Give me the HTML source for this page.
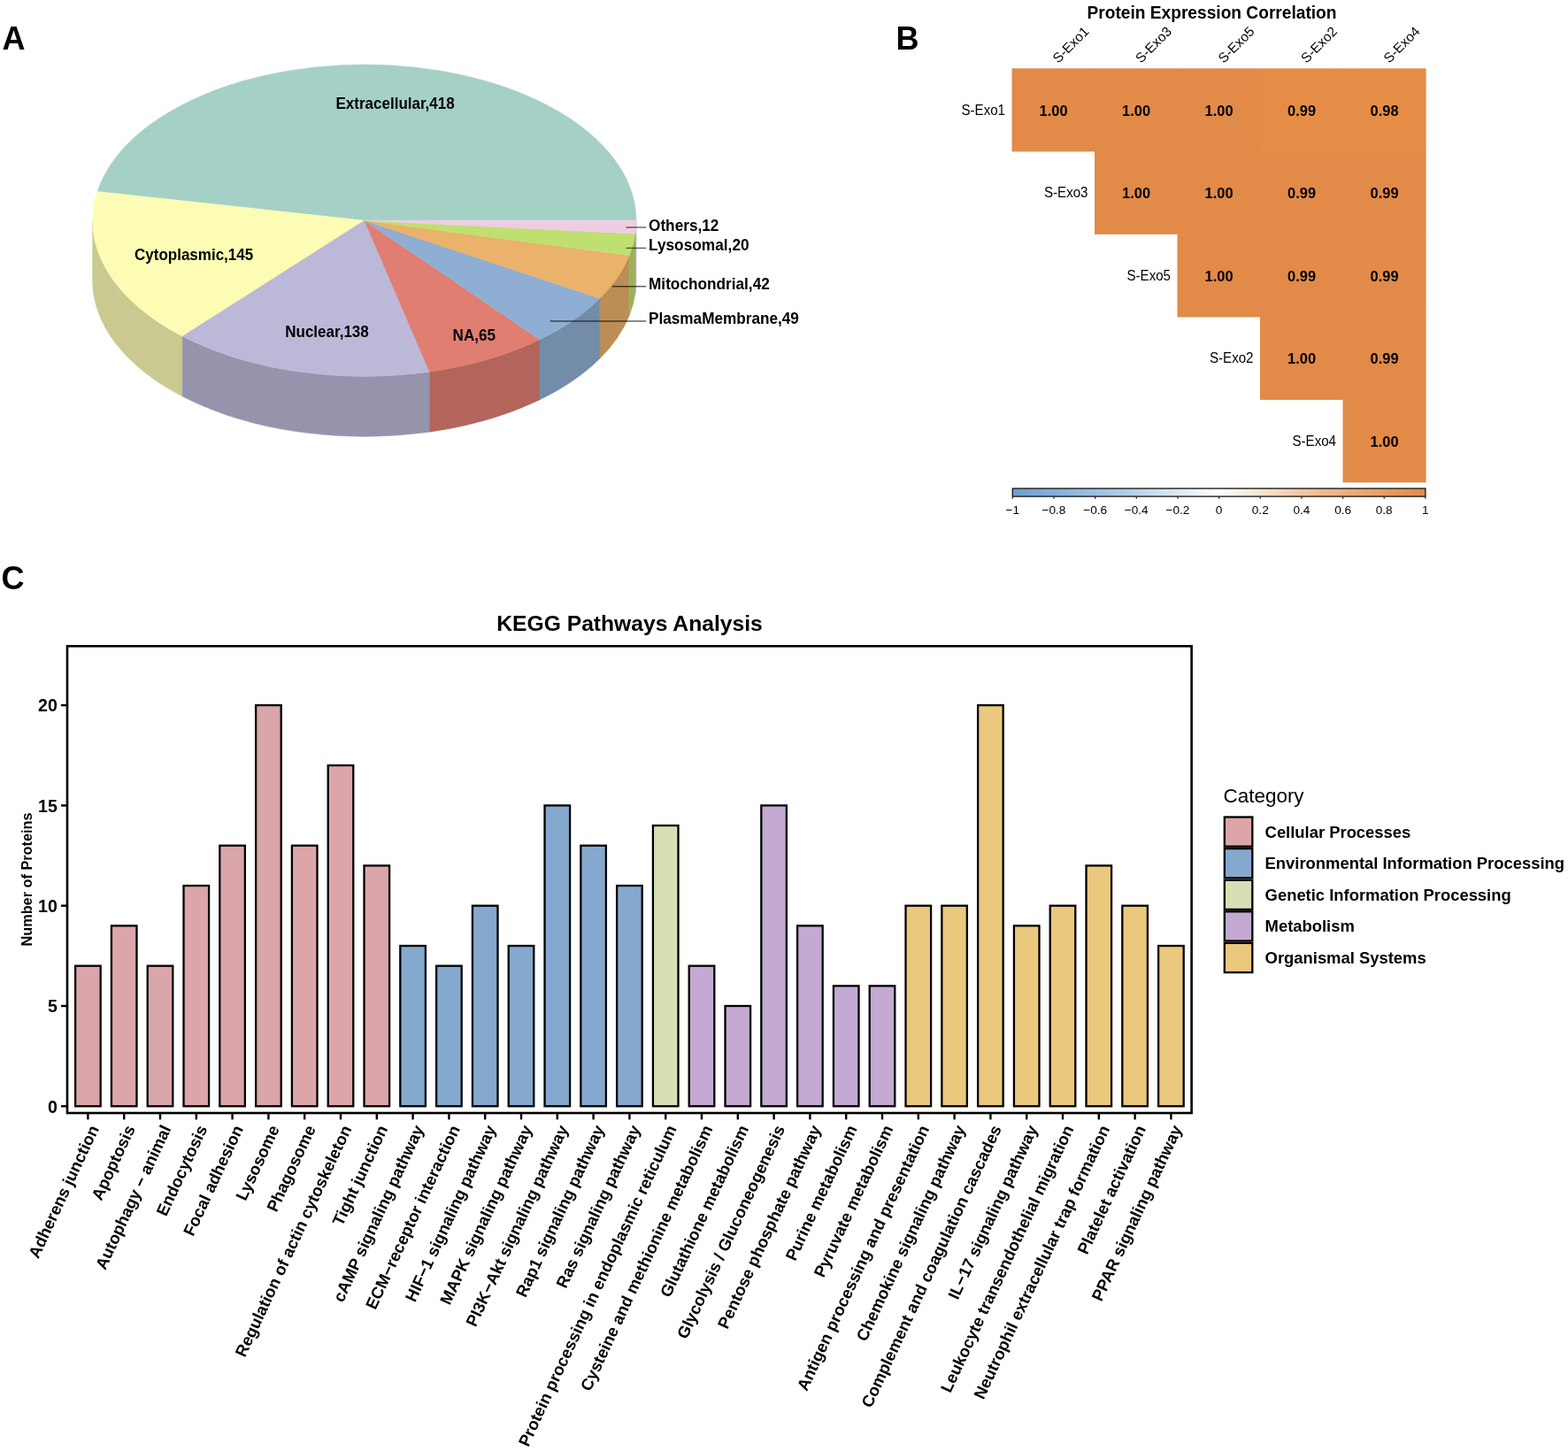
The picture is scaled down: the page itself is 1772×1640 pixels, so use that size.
<!DOCTYPE html>
<html><head><meta charset="utf-8"><title>Figure</title>
<style>html,body{margin:0;padding:0;background:#fff;}body{width:1772px;height:1640px;overflow:hidden;}svg{display:block;}</style>
</head><body>
<svg width="1772" height="1640" viewBox="0 0 1772 1640">
<text x="2.6" y="56" font-size="36" font-weight="bold" font-family="Liberation Sans, Arial, Helvetica, sans-serif">A</text>
<text x="1012.5" y="56.2" font-size="36" font-weight="bold" font-family="Liberation Sans, Arial, Helvetica, sans-serif">B</text>
<text x="1.6" y="665.7" font-size="36" font-weight="bold" font-family="Liberation Sans, Arial, Helvetica, sans-serif">C</text>
<path d="M104.60,249.20 A307.2,176.2 0 0 0 206.19,380.11 L206.19,448.11 A307.2,176.2 0 0 1 104.60,317.20 Z" fill="#CACA90" stroke="#CACA90" stroke-width="0.5"/>
<path d="M206.19,380.11 A307.2,176.2 0 0 0 485.44,420.26 L485.44,488.26 A307.2,176.2 0 0 1 206.19,448.11 Z" fill="#9694AD" stroke="#9694AD" stroke-width="0.5"/>
<path d="M485.44,420.26 A307.2,176.2 0 0 0 610.05,383.80 L610.05,451.80 A307.2,176.2 0 0 1 485.44,488.26 Z" fill="#B3655B" stroke="#B3655B" stroke-width="0.5"/>
<path d="M610.05,383.80 A307.2,176.2 0 0 0 677.93,337.21 L677.93,405.21 A307.2,176.2 0 0 1 610.05,451.80 Z" fill="#728CA9" stroke="#728CA9" stroke-width="0.5"/>
<path d="M677.93,337.21 A307.2,176.2 0 0 0 711.18,288.71 L711.18,356.71 A307.2,176.2 0 0 1 677.93,405.21 Z" fill="#BB8E55" stroke="#BB8E55" stroke-width="0.5"/>
<path d="M711.18,288.71 A307.2,176.2 0 0 0 717.90,264.13 L717.90,332.13 A307.2,176.2 0 0 1 711.18,356.71 Z" fill="#99B25A" stroke="#99B25A" stroke-width="0.5"/>
<path d="M717.90,264.13 A307.2,176.2 0 0 0 719.00,249.20 L719.00,317.20 A307.2,176.2 0 0 1 717.90,332.13 Z" fill="#C0A3B6" stroke="#C0A3B6" stroke-width="0.5"/>
<path d="M411.8,249.2 L719.00,249.20 A307.2,176.2 0 0 0 109.97,216.39 Z" fill="#A5D0C6" stroke="#A5D0C6" stroke-width="0.5"/>
<path d="M411.8,249.2 L109.97,216.39 A307.2,176.2 0 0 0 206.19,380.11 Z" fill="#FDFCB4" stroke="#FDFCB4" stroke-width="0.5"/>
<path d="M411.8,249.2 L206.19,380.11 A307.2,176.2 0 0 0 485.44,420.26 Z" fill="#BCB9D8" stroke="#BCB9D8" stroke-width="0.5"/>
<path d="M411.8,249.2 L485.44,420.26 A307.2,176.2 0 0 0 610.05,383.80 Z" fill="#E07E72" stroke="#E07E72" stroke-width="0.5"/>
<path d="M411.8,249.2 L610.05,383.80 A307.2,176.2 0 0 0 677.93,337.21 Z" fill="#8EAFD3" stroke="#8EAFD3" stroke-width="0.5"/>
<path d="M411.8,249.2 L677.93,337.21 A307.2,176.2 0 0 0 711.18,288.71 Z" fill="#EAB26A" stroke="#EAB26A" stroke-width="0.5"/>
<path d="M411.8,249.2 L711.18,288.71 A307.2,176.2 0 0 0 717.90,264.13 Z" fill="#BFDF70" stroke="#BFDF70" stroke-width="0.5"/>
<path d="M411.8,249.2 L717.90,264.13 A307.2,176.2 0 0 0 719.00,249.20 Z" fill="#F0CCE3" stroke="#F0CCE3" stroke-width="0.5"/>
<text x="446.6" y="123.0" font-size="17.8" textLength="134.2" lengthAdjust="spacingAndGlyphs" font-weight="bold" text-anchor="middle" font-family="Liberation Sans, Arial, Helvetica, sans-serif">Extracellular,418</text>
<text x="219.1" y="294.0" font-size="17.8" textLength="134.1" lengthAdjust="spacingAndGlyphs" font-weight="bold" text-anchor="middle" font-family="Liberation Sans, Arial, Helvetica, sans-serif">Cytoplasmic,145</text>
<text x="369.5" y="381.4" font-size="17.8" textLength="94.5" lengthAdjust="spacingAndGlyphs" font-weight="bold" text-anchor="middle" font-family="Liberation Sans, Arial, Helvetica, sans-serif">Nuclear,138</text>
<text x="535.75" y="385.0" font-size="17.8" textLength="48.4" lengthAdjust="spacingAndGlyphs" font-weight="bold" text-anchor="middle" font-family="Liberation Sans, Arial, Helvetica, sans-serif">NA,65</text>
<line x1="707.6" y1="257.0" x2="730.3" y2="257.0" stroke="#000" stroke-opacity="0.62" stroke-width="1.4"/>
<text x="733.0" y="260.6" font-size="17.8" textLength="79.4" lengthAdjust="spacingAndGlyphs" font-weight="bold" font-family="Liberation Sans, Arial, Helvetica, sans-serif">Others,12</text>
<line x1="707.6" y1="280.4" x2="730.3" y2="280.4" stroke="#000" stroke-opacity="0.62" stroke-width="1.4"/>
<text x="733.0" y="282.5" font-size="17.8" textLength="113.6" lengthAdjust="spacingAndGlyphs" font-weight="bold" font-family="Liberation Sans, Arial, Helvetica, sans-serif">Lysosomal,20</text>
<line x1="691.8" y1="323.8" x2="730.3" y2="323.8" stroke="#000" stroke-opacity="0.62" stroke-width="1.4"/>
<text x="733.0" y="326.7" font-size="17.8" textLength="136.8" lengthAdjust="spacingAndGlyphs" font-weight="bold" font-family="Liberation Sans, Arial, Helvetica, sans-serif">Mitochondrial,42</text>
<line x1="621.9" y1="363.0" x2="730.3" y2="363.0" stroke="#000" stroke-opacity="0.62" stroke-width="1.4"/>
<text x="733.0" y="365.6" font-size="17.8" textLength="169.9" lengthAdjust="spacingAndGlyphs" font-weight="bold" font-family="Liberation Sans, Arial, Helvetica, sans-serif">PlasmaMembrane,49</text>
<text x="1369.5" y="21.1" font-size="19.6" textLength="282.00" lengthAdjust="spacingAndGlyphs" font-weight="bold" text-anchor="middle" font-family="Liberation Sans, Arial, Helvetica, sans-serif">Protein Expression Correlation</text>
<rect x="1143.50" y="77.30" width="94.1" height="94.1" fill="#E28A48"/>
<rect x="1237.00" y="77.30" width="94.1" height="94.1" fill="#E28A48"/>
<rect x="1330.50" y="77.30" width="94.1" height="94.1" fill="#E28A48"/>
<rect x="1424.00" y="77.30" width="94.1" height="94.1" fill="#E58D46"/>
<rect x="1517.50" y="77.30" width="94.1" height="94.1" fill="#E58D46"/>
<rect x="1237.00" y="170.80" width="94.1" height="94.1" fill="#E28A48"/>
<rect x="1330.50" y="170.80" width="94.1" height="94.1" fill="#E28A48"/>
<rect x="1424.00" y="170.80" width="94.1" height="94.1" fill="#E28A48"/>
<rect x="1517.50" y="170.80" width="94.1" height="94.1" fill="#E28A48"/>
<rect x="1330.50" y="264.30" width="94.1" height="94.1" fill="#E28A48"/>
<rect x="1424.00" y="264.30" width="94.1" height="94.1" fill="#E28A48"/>
<rect x="1517.50" y="264.30" width="94.1" height="94.1" fill="#E28A48"/>
<rect x="1424.00" y="357.80" width="94.1" height="94.1" fill="#E28A48"/>
<rect x="1517.50" y="357.80" width="94.1" height="94.1" fill="#E28A48"/>
<rect x="1517.50" y="451.30" width="94.1" height="94.1" fill="#E28A48"/>
<text x="1190.55" y="130.70" font-size="16.4" font-weight="bold" text-anchor="middle" font-family="Liberation Sans, Arial, Helvetica, sans-serif">1.00</text>
<text x="1284.05" y="130.70" font-size="16.4" font-weight="bold" text-anchor="middle" font-family="Liberation Sans, Arial, Helvetica, sans-serif">1.00</text>
<text x="1377.55" y="130.70" font-size="16.4" font-weight="bold" text-anchor="middle" font-family="Liberation Sans, Arial, Helvetica, sans-serif">1.00</text>
<text x="1471.05" y="130.70" font-size="16.4" font-weight="bold" text-anchor="middle" font-family="Liberation Sans, Arial, Helvetica, sans-serif">0.99</text>
<text x="1564.55" y="130.70" font-size="16.4" font-weight="bold" text-anchor="middle" font-family="Liberation Sans, Arial, Helvetica, sans-serif">0.98</text>
<text x="1136.00" y="129.90" font-size="15.8" textLength="49.52" lengthAdjust="spacingAndGlyphs" text-anchor="end" font-family="Liberation Sans, Arial, Helvetica, sans-serif">S-Exo1</text>
<text transform="translate(1196.05,72) rotate(-45)" font-size="15.3" font-family="Liberation Sans, Arial, Helvetica, sans-serif">S-Exo1</text>
<text x="1284.05" y="224.20" font-size="16.4" font-weight="bold" text-anchor="middle" font-family="Liberation Sans, Arial, Helvetica, sans-serif">1.00</text>
<text x="1377.55" y="224.20" font-size="16.4" font-weight="bold" text-anchor="middle" font-family="Liberation Sans, Arial, Helvetica, sans-serif">1.00</text>
<text x="1471.05" y="224.20" font-size="16.4" font-weight="bold" text-anchor="middle" font-family="Liberation Sans, Arial, Helvetica, sans-serif">0.99</text>
<text x="1564.55" y="224.20" font-size="16.4" font-weight="bold" text-anchor="middle" font-family="Liberation Sans, Arial, Helvetica, sans-serif">0.99</text>
<text x="1229.50" y="223.40" font-size="15.8" textLength="49.52" lengthAdjust="spacingAndGlyphs" text-anchor="end" font-family="Liberation Sans, Arial, Helvetica, sans-serif">S-Exo3</text>
<text transform="translate(1289.55,72) rotate(-45)" font-size="15.3" font-family="Liberation Sans, Arial, Helvetica, sans-serif">S-Exo3</text>
<text x="1377.55" y="317.70" font-size="16.4" font-weight="bold" text-anchor="middle" font-family="Liberation Sans, Arial, Helvetica, sans-serif">1.00</text>
<text x="1471.05" y="317.70" font-size="16.4" font-weight="bold" text-anchor="middle" font-family="Liberation Sans, Arial, Helvetica, sans-serif">0.99</text>
<text x="1564.55" y="317.70" font-size="16.4" font-weight="bold" text-anchor="middle" font-family="Liberation Sans, Arial, Helvetica, sans-serif">0.99</text>
<text x="1323.00" y="316.90" font-size="15.8" textLength="49.52" lengthAdjust="spacingAndGlyphs" text-anchor="end" font-family="Liberation Sans, Arial, Helvetica, sans-serif">S-Exo5</text>
<text transform="translate(1383.05,72) rotate(-45)" font-size="15.3" font-family="Liberation Sans, Arial, Helvetica, sans-serif">S-Exo5</text>
<text x="1471.05" y="411.20" font-size="16.4" font-weight="bold" text-anchor="middle" font-family="Liberation Sans, Arial, Helvetica, sans-serif">1.00</text>
<text x="1564.55" y="411.20" font-size="16.4" font-weight="bold" text-anchor="middle" font-family="Liberation Sans, Arial, Helvetica, sans-serif">0.99</text>
<text x="1416.50" y="410.40" font-size="15.8" textLength="49.52" lengthAdjust="spacingAndGlyphs" text-anchor="end" font-family="Liberation Sans, Arial, Helvetica, sans-serif">S-Exo2</text>
<text transform="translate(1476.55,72) rotate(-45)" font-size="15.3" font-family="Liberation Sans, Arial, Helvetica, sans-serif">S-Exo2</text>
<text x="1564.55" y="504.70" font-size="16.4" font-weight="bold" text-anchor="middle" font-family="Liberation Sans, Arial, Helvetica, sans-serif">1.00</text>
<text x="1510.00" y="503.90" font-size="15.8" textLength="49.52" lengthAdjust="spacingAndGlyphs" text-anchor="end" font-family="Liberation Sans, Arial, Helvetica, sans-serif">S-Exo4</text>
<text transform="translate(1570.05,72) rotate(-45)" font-size="15.3" font-family="Liberation Sans, Arial, Helvetica, sans-serif">S-Exo4</text>
<defs><linearGradient id="cb" x1="0" x2="1" y1="0" y2="0"><stop offset="0" stop-color="#6E9FD0"/><stop offset="0.25" stop-color="#A9C8E6"/><stop offset="0.5" stop-color="#FFFFFF"/><stop offset="0.75" stop-color="#F0BA8E"/><stop offset="1" stop-color="#E28A48"/></linearGradient></defs>
<rect x="1144.3" y="552.1" width="466.6" height="9" fill="url(#cb)" stroke="#111" stroke-width="1.3"/>
<line x1="1144.30" y1="561.6" x2="1144.30" y2="563.8" stroke="#111" stroke-width="1.2"/>
<text x="1144.30" y="580.8" font-size="13.6" text-anchor="middle" font-family="Liberation Sans, Arial, Helvetica, sans-serif">−1</text>
<line x1="1190.96" y1="561.6" x2="1190.96" y2="563.8" stroke="#111" stroke-width="1.2"/>
<text x="1190.96" y="580.8" font-size="13.6" text-anchor="middle" font-family="Liberation Sans, Arial, Helvetica, sans-serif">−0.8</text>
<line x1="1237.62" y1="561.6" x2="1237.62" y2="563.8" stroke="#111" stroke-width="1.2"/>
<text x="1237.62" y="580.8" font-size="13.6" text-anchor="middle" font-family="Liberation Sans, Arial, Helvetica, sans-serif">−0.6</text>
<line x1="1284.28" y1="561.6" x2="1284.28" y2="563.8" stroke="#111" stroke-width="1.2"/>
<text x="1284.28" y="580.8" font-size="13.6" text-anchor="middle" font-family="Liberation Sans, Arial, Helvetica, sans-serif">−0.4</text>
<line x1="1330.94" y1="561.6" x2="1330.94" y2="563.8" stroke="#111" stroke-width="1.2"/>
<text x="1330.94" y="580.8" font-size="13.6" text-anchor="middle" font-family="Liberation Sans, Arial, Helvetica, sans-serif">−0.2</text>
<line x1="1377.60" y1="561.6" x2="1377.60" y2="563.8" stroke="#111" stroke-width="1.2"/>
<text x="1377.60" y="580.8" font-size="13.6" text-anchor="middle" font-family="Liberation Sans, Arial, Helvetica, sans-serif">0</text>
<line x1="1424.26" y1="561.6" x2="1424.26" y2="563.8" stroke="#111" stroke-width="1.2"/>
<text x="1424.26" y="580.8" font-size="13.6" text-anchor="middle" font-family="Liberation Sans, Arial, Helvetica, sans-serif">0.2</text>
<line x1="1470.92" y1="561.6" x2="1470.92" y2="563.8" stroke="#111" stroke-width="1.2"/>
<text x="1470.92" y="580.8" font-size="13.6" text-anchor="middle" font-family="Liberation Sans, Arial, Helvetica, sans-serif">0.4</text>
<line x1="1517.58" y1="561.6" x2="1517.58" y2="563.8" stroke="#111" stroke-width="1.2"/>
<text x="1517.58" y="580.8" font-size="13.6" text-anchor="middle" font-family="Liberation Sans, Arial, Helvetica, sans-serif">0.6</text>
<line x1="1564.24" y1="561.6" x2="1564.24" y2="563.8" stroke="#111" stroke-width="1.2"/>
<text x="1564.24" y="580.8" font-size="13.6" text-anchor="middle" font-family="Liberation Sans, Arial, Helvetica, sans-serif">0.8</text>
<line x1="1610.90" y1="561.6" x2="1610.90" y2="563.8" stroke="#111" stroke-width="1.2"/>
<text x="1610.90" y="580.8" font-size="13.6" text-anchor="middle" font-family="Liberation Sans, Arial, Helvetica, sans-serif">1</text>
<text x="711.5" y="712.6" font-size="23.4" textLength="300.5" lengthAdjust="spacingAndGlyphs" font-weight="bold" text-anchor="middle" font-family="Liberation Sans, Arial, Helvetica, sans-serif">KEGG Pathways Analysis</text>
<rect x="85.12" y="1091.68" width="28.56" height="158.62" fill="#DBA6AA" stroke="#000" stroke-width="2.3"/>
<rect x="125.92" y="1046.36" width="28.56" height="203.94" fill="#DBA6AA" stroke="#000" stroke-width="2.3"/>
<rect x="166.72" y="1091.68" width="28.56" height="158.62" fill="#DBA6AA" stroke="#000" stroke-width="2.3"/>
<rect x="207.52" y="1001.04" width="28.56" height="249.26" fill="#DBA6AA" stroke="#000" stroke-width="2.3"/>
<rect x="248.32" y="955.72" width="28.56" height="294.58" fill="#DBA6AA" stroke="#000" stroke-width="2.3"/>
<rect x="289.12" y="797.10" width="28.56" height="453.20" fill="#DBA6AA" stroke="#000" stroke-width="2.3"/>
<rect x="329.92" y="955.72" width="28.56" height="294.58" fill="#DBA6AA" stroke="#000" stroke-width="2.3"/>
<rect x="370.72" y="865.08" width="28.56" height="385.22" fill="#DBA6AA" stroke="#000" stroke-width="2.3"/>
<rect x="411.52" y="978.38" width="28.56" height="271.92" fill="#DBA6AA" stroke="#000" stroke-width="2.3"/>
<rect x="452.32" y="1069.02" width="28.56" height="181.28" fill="#85A8CE" stroke="#000" stroke-width="2.3"/>
<rect x="493.12" y="1091.68" width="28.56" height="158.62" fill="#85A8CE" stroke="#000" stroke-width="2.3"/>
<rect x="533.92" y="1023.70" width="28.56" height="226.60" fill="#85A8CE" stroke="#000" stroke-width="2.3"/>
<rect x="574.72" y="1069.02" width="28.56" height="181.28" fill="#85A8CE" stroke="#000" stroke-width="2.3"/>
<rect x="615.52" y="910.40" width="28.56" height="339.90" fill="#85A8CE" stroke="#000" stroke-width="2.3"/>
<rect x="656.32" y="955.72" width="28.56" height="294.58" fill="#85A8CE" stroke="#000" stroke-width="2.3"/>
<rect x="697.12" y="1001.04" width="28.56" height="249.26" fill="#85A8CE" stroke="#000" stroke-width="2.3"/>
<rect x="737.92" y="933.06" width="28.56" height="317.24" fill="#D6E0B4" stroke="#000" stroke-width="2.3"/>
<rect x="778.72" y="1091.68" width="28.56" height="158.62" fill="#C4AAD2" stroke="#000" stroke-width="2.3"/>
<rect x="819.52" y="1137.00" width="28.56" height="113.30" fill="#C4AAD2" stroke="#000" stroke-width="2.3"/>
<rect x="860.32" y="910.40" width="28.56" height="339.90" fill="#C4AAD2" stroke="#000" stroke-width="2.3"/>
<rect x="901.12" y="1046.36" width="28.56" height="203.94" fill="#C4AAD2" stroke="#000" stroke-width="2.3"/>
<rect x="941.92" y="1114.34" width="28.56" height="135.96" fill="#C4AAD2" stroke="#000" stroke-width="2.3"/>
<rect x="982.72" y="1114.34" width="28.56" height="135.96" fill="#C4AAD2" stroke="#000" stroke-width="2.3"/>
<rect x="1023.52" y="1023.70" width="28.56" height="226.60" fill="#EAC87E" stroke="#000" stroke-width="2.3"/>
<rect x="1064.32" y="1023.70" width="28.56" height="226.60" fill="#EAC87E" stroke="#000" stroke-width="2.3"/>
<rect x="1105.12" y="797.10" width="28.56" height="453.20" fill="#EAC87E" stroke="#000" stroke-width="2.3"/>
<rect x="1145.92" y="1046.36" width="28.56" height="203.94" fill="#EAC87E" stroke="#000" stroke-width="2.3"/>
<rect x="1186.72" y="1023.70" width="28.56" height="226.60" fill="#EAC87E" stroke="#000" stroke-width="2.3"/>
<rect x="1227.52" y="978.38" width="28.56" height="271.92" fill="#EAC87E" stroke="#000" stroke-width="2.3"/>
<rect x="1268.32" y="1023.70" width="28.56" height="226.60" fill="#EAC87E" stroke="#000" stroke-width="2.3"/>
<rect x="1309.12" y="1069.02" width="28.56" height="181.28" fill="#EAC87E" stroke="#000" stroke-width="2.3"/>
<rect x="76.0" y="730.3" width="1270.6" height="527.7" fill="none" stroke="#000" stroke-width="2.6"/>
<line x1="69.0" y1="1250.30" x2="76.0" y2="1250.30" stroke="#000" stroke-width="2.4"/>
<text x="64.8" y="1257.50" font-size="19.6" font-weight="bold" text-anchor="end" font-family="Liberation Sans, Arial, Helvetica, sans-serif">0</text>
<line x1="69.0" y1="1137.00" x2="76.0" y2="1137.00" stroke="#000" stroke-width="2.4"/>
<text x="64.8" y="1144.20" font-size="19.6" font-weight="bold" text-anchor="end" font-family="Liberation Sans, Arial, Helvetica, sans-serif">5</text>
<line x1="69.0" y1="1023.70" x2="76.0" y2="1023.70" stroke="#000" stroke-width="2.4"/>
<text x="64.8" y="1030.90" font-size="19.6" font-weight="bold" text-anchor="end" font-family="Liberation Sans, Arial, Helvetica, sans-serif">10</text>
<line x1="69.0" y1="910.40" x2="76.0" y2="910.40" stroke="#000" stroke-width="2.4"/>
<text x="64.8" y="917.60" font-size="19.6" font-weight="bold" text-anchor="end" font-family="Liberation Sans, Arial, Helvetica, sans-serif">15</text>
<line x1="69.0" y1="797.10" x2="76.0" y2="797.10" stroke="#000" stroke-width="2.4"/>
<text x="64.8" y="804.30" font-size="19.6" font-weight="bold" text-anchor="end" font-family="Liberation Sans, Arial, Helvetica, sans-serif">20</text>
<text transform="translate(36.2,994) rotate(-90)" font-size="16.3" font-weight="bold" text-anchor="middle" font-family="Liberation Sans, Arial, Helvetica, sans-serif">Number of Proteins</text>
<line x1="99.40" y1="1258.0" x2="99.40" y2="1265.4" stroke="#000" stroke-width="2.4"/>
<text transform="translate(112.20,1275.6) rotate(-65)" class="xl" font-size="18.6" font-weight="bold" text-anchor="end" font-family="Liberation Sans, Arial, Helvetica, sans-serif">Adherens junction</text>
<line x1="140.20" y1="1258.0" x2="140.20" y2="1265.4" stroke="#000" stroke-width="2.4"/>
<text transform="translate(153.00,1275.6) rotate(-65)" class="xl" font-size="18.6" font-weight="bold" text-anchor="end" font-family="Liberation Sans, Arial, Helvetica, sans-serif">Apoptosis</text>
<line x1="181.00" y1="1258.0" x2="181.00" y2="1265.4" stroke="#000" stroke-width="2.4"/>
<text transform="translate(193.80,1275.6) rotate(-65)" class="xl" font-size="18.6" font-weight="bold" text-anchor="end" font-family="Liberation Sans, Arial, Helvetica, sans-serif">Autophagy − animal</text>
<line x1="221.80" y1="1258.0" x2="221.80" y2="1265.4" stroke="#000" stroke-width="2.4"/>
<text transform="translate(234.60,1275.6) rotate(-65)" class="xl" font-size="18.6" font-weight="bold" text-anchor="end" font-family="Liberation Sans, Arial, Helvetica, sans-serif">Endocytosis</text>
<line x1="262.60" y1="1258.0" x2="262.60" y2="1265.4" stroke="#000" stroke-width="2.4"/>
<text transform="translate(275.40,1275.6) rotate(-65)" class="xl" font-size="18.6" font-weight="bold" text-anchor="end" font-family="Liberation Sans, Arial, Helvetica, sans-serif">Focal adhesion</text>
<line x1="303.40" y1="1258.0" x2="303.40" y2="1265.4" stroke="#000" stroke-width="2.4"/>
<text transform="translate(316.20,1275.6) rotate(-65)" class="xl" font-size="18.6" font-weight="bold" text-anchor="end" font-family="Liberation Sans, Arial, Helvetica, sans-serif">Lysosome</text>
<line x1="344.20" y1="1258.0" x2="344.20" y2="1265.4" stroke="#000" stroke-width="2.4"/>
<text transform="translate(357.00,1275.6) rotate(-65)" class="xl" font-size="18.6" font-weight="bold" text-anchor="end" font-family="Liberation Sans, Arial, Helvetica, sans-serif">Phagosome</text>
<line x1="385.00" y1="1258.0" x2="385.00" y2="1265.4" stroke="#000" stroke-width="2.4"/>
<text transform="translate(397.80,1275.6) rotate(-65)" class="xl" font-size="18.6" font-weight="bold" text-anchor="end" font-family="Liberation Sans, Arial, Helvetica, sans-serif">Regulation of actin cytoskeleton</text>
<line x1="425.80" y1="1258.0" x2="425.80" y2="1265.4" stroke="#000" stroke-width="2.4"/>
<text transform="translate(438.60,1275.6) rotate(-65)" class="xl" font-size="18.6" font-weight="bold" text-anchor="end" font-family="Liberation Sans, Arial, Helvetica, sans-serif">Tight junction</text>
<line x1="466.60" y1="1258.0" x2="466.60" y2="1265.4" stroke="#000" stroke-width="2.4"/>
<text transform="translate(479.40,1275.6) rotate(-65)" class="xl" font-size="18.6" font-weight="bold" text-anchor="end" font-family="Liberation Sans, Arial, Helvetica, sans-serif">cAMP signaling pathway</text>
<line x1="507.40" y1="1258.0" x2="507.40" y2="1265.4" stroke="#000" stroke-width="2.4"/>
<text transform="translate(520.20,1275.6) rotate(-65)" class="xl" font-size="18.6" font-weight="bold" text-anchor="end" font-family="Liberation Sans, Arial, Helvetica, sans-serif">ECM−receptor interaction</text>
<line x1="548.20" y1="1258.0" x2="548.20" y2="1265.4" stroke="#000" stroke-width="2.4"/>
<text transform="translate(561.00,1275.6) rotate(-65)" class="xl" font-size="18.6" font-weight="bold" text-anchor="end" font-family="Liberation Sans, Arial, Helvetica, sans-serif">HIF−1 signaling pathway</text>
<line x1="589.00" y1="1258.0" x2="589.00" y2="1265.4" stroke="#000" stroke-width="2.4"/>
<text transform="translate(601.80,1275.6) rotate(-65)" class="xl" font-size="18.6" font-weight="bold" text-anchor="end" font-family="Liberation Sans, Arial, Helvetica, sans-serif">MAPK signaling pathway</text>
<line x1="629.80" y1="1258.0" x2="629.80" y2="1265.4" stroke="#000" stroke-width="2.4"/>
<text transform="translate(642.60,1275.6) rotate(-65)" class="xl" font-size="18.6" font-weight="bold" text-anchor="end" font-family="Liberation Sans, Arial, Helvetica, sans-serif">PI3K−Akt signaling pathway</text>
<line x1="670.60" y1="1258.0" x2="670.60" y2="1265.4" stroke="#000" stroke-width="2.4"/>
<text transform="translate(683.40,1275.6) rotate(-65)" class="xl" font-size="18.6" font-weight="bold" text-anchor="end" font-family="Liberation Sans, Arial, Helvetica, sans-serif">Rap1 signaling pathway</text>
<line x1="711.40" y1="1258.0" x2="711.40" y2="1265.4" stroke="#000" stroke-width="2.4"/>
<text transform="translate(724.20,1275.6) rotate(-65)" class="xl" font-size="18.6" font-weight="bold" text-anchor="end" font-family="Liberation Sans, Arial, Helvetica, sans-serif">Ras signaling pathway</text>
<line x1="752.20" y1="1258.0" x2="752.20" y2="1265.4" stroke="#000" stroke-width="2.4"/>
<text transform="translate(765.00,1275.6) rotate(-65)" class="xl" font-size="18.6" font-weight="bold" text-anchor="end" font-family="Liberation Sans, Arial, Helvetica, sans-serif">Protein processing in endoplasmic reticulum</text>
<line x1="793.00" y1="1258.0" x2="793.00" y2="1265.4" stroke="#000" stroke-width="2.4"/>
<text transform="translate(805.80,1275.6) rotate(-65)" class="xl" font-size="18.6" font-weight="bold" text-anchor="end" font-family="Liberation Sans, Arial, Helvetica, sans-serif">Cysteine and methionine metabolism</text>
<line x1="833.80" y1="1258.0" x2="833.80" y2="1265.4" stroke="#000" stroke-width="2.4"/>
<text transform="translate(846.60,1275.6) rotate(-65)" class="xl" font-size="18.6" font-weight="bold" text-anchor="end" font-family="Liberation Sans, Arial, Helvetica, sans-serif">Glutathione metabolism</text>
<line x1="874.60" y1="1258.0" x2="874.60" y2="1265.4" stroke="#000" stroke-width="2.4"/>
<text transform="translate(887.40,1275.6) rotate(-65)" class="xl" font-size="18.6" font-weight="bold" text-anchor="end" font-family="Liberation Sans, Arial, Helvetica, sans-serif">Glycolysis / Gluconeogenesis</text>
<line x1="915.40" y1="1258.0" x2="915.40" y2="1265.4" stroke="#000" stroke-width="2.4"/>
<text transform="translate(928.20,1275.6) rotate(-65)" class="xl" font-size="18.6" font-weight="bold" text-anchor="end" font-family="Liberation Sans, Arial, Helvetica, sans-serif">Pentose phosphate pathway</text>
<line x1="956.20" y1="1258.0" x2="956.20" y2="1265.4" stroke="#000" stroke-width="2.4"/>
<text transform="translate(969.00,1275.6) rotate(-65)" class="xl" font-size="18.6" font-weight="bold" text-anchor="end" font-family="Liberation Sans, Arial, Helvetica, sans-serif">Purine metabolism</text>
<line x1="997.00" y1="1258.0" x2="997.00" y2="1265.4" stroke="#000" stroke-width="2.4"/>
<text transform="translate(1009.80,1275.6) rotate(-65)" class="xl" font-size="18.6" font-weight="bold" text-anchor="end" font-family="Liberation Sans, Arial, Helvetica, sans-serif">Pyruvate metabolism</text>
<line x1="1037.80" y1="1258.0" x2="1037.80" y2="1265.4" stroke="#000" stroke-width="2.4"/>
<text transform="translate(1050.60,1275.6) rotate(-65)" class="xl" font-size="18.6" font-weight="bold" text-anchor="end" font-family="Liberation Sans, Arial, Helvetica, sans-serif">Antigen processing and presentation</text>
<line x1="1078.60" y1="1258.0" x2="1078.60" y2="1265.4" stroke="#000" stroke-width="2.4"/>
<text transform="translate(1091.40,1275.6) rotate(-65)" class="xl" font-size="18.6" font-weight="bold" text-anchor="end" font-family="Liberation Sans, Arial, Helvetica, sans-serif">Chemokine signaling pathway</text>
<line x1="1119.40" y1="1258.0" x2="1119.40" y2="1265.4" stroke="#000" stroke-width="2.4"/>
<text transform="translate(1132.20,1275.6) rotate(-65)" class="xl" font-size="18.6" font-weight="bold" text-anchor="end" font-family="Liberation Sans, Arial, Helvetica, sans-serif">Complement and coagulation cascades</text>
<line x1="1160.20" y1="1258.0" x2="1160.20" y2="1265.4" stroke="#000" stroke-width="2.4"/>
<text transform="translate(1173.00,1275.6) rotate(-65)" class="xl" font-size="18.6" font-weight="bold" text-anchor="end" font-family="Liberation Sans, Arial, Helvetica, sans-serif">IL−17 signaling pathway</text>
<line x1="1201.00" y1="1258.0" x2="1201.00" y2="1265.4" stroke="#000" stroke-width="2.4"/>
<text transform="translate(1213.80,1275.6) rotate(-65)" class="xl" font-size="18.6" font-weight="bold" text-anchor="end" font-family="Liberation Sans, Arial, Helvetica, sans-serif">Leukocyte transendothelial migration</text>
<line x1="1241.80" y1="1258.0" x2="1241.80" y2="1265.4" stroke="#000" stroke-width="2.4"/>
<text transform="translate(1254.60,1275.6) rotate(-65)" class="xl" font-size="18.6" font-weight="bold" text-anchor="end" font-family="Liberation Sans, Arial, Helvetica, sans-serif">Neutrophil extracellular trap formation</text>
<line x1="1282.60" y1="1258.0" x2="1282.60" y2="1265.4" stroke="#000" stroke-width="2.4"/>
<text transform="translate(1295.40,1275.6) rotate(-65)" class="xl" font-size="18.6" font-weight="bold" text-anchor="end" font-family="Liberation Sans, Arial, Helvetica, sans-serif">Platelet activation</text>
<line x1="1323.40" y1="1258.0" x2="1323.40" y2="1265.4" stroke="#000" stroke-width="2.4"/>
<text transform="translate(1336.20,1275.6) rotate(-65)" class="xl" font-size="18.6" font-weight="bold" text-anchor="end" font-family="Liberation Sans, Arial, Helvetica, sans-serif">PPAR signaling pathway</text>
<text x="1382.6" y="907.2" font-size="21.3" textLength="91" lengthAdjust="spacingAndGlyphs" font-family="Liberation Sans, Arial, Helvetica, sans-serif">Category</text>
<rect x="1383.8" y="923.50" width="31.5" height="33.2" fill="#DBA6AA" stroke="#000" stroke-width="2.3"/>
<text x="1429.6" y="946.50" font-size="19.2" textLength="164.68" lengthAdjust="spacingAndGlyphs" font-weight="bold" font-family="Liberation Sans, Arial, Helvetica, sans-serif">Cellular Processes</text>
<rect x="1383.8" y="959.10" width="31.5" height="33.2" fill="#85A8CE" stroke="#000" stroke-width="2.3"/>
<text x="1429.6" y="982.10" font-size="19.2" textLength="338.42" lengthAdjust="spacingAndGlyphs" font-weight="bold" font-family="Liberation Sans, Arial, Helvetica, sans-serif">Environmental Information Processing</text>
<rect x="1383.8" y="994.70" width="31.5" height="33.2" fill="#D6E0B4" stroke="#000" stroke-width="2.3"/>
<text x="1429.6" y="1017.70" font-size="19.2" textLength="278.11" lengthAdjust="spacingAndGlyphs" font-weight="bold" font-family="Liberation Sans, Arial, Helvetica, sans-serif">Genetic Information Processing</text>
<rect x="1383.8" y="1030.30" width="31.5" height="33.2" fill="#C4AAD2" stroke="#000" stroke-width="2.3"/>
<text x="1429.6" y="1053.30" font-size="19.2" textLength="101.22" lengthAdjust="spacingAndGlyphs" font-weight="bold" font-family="Liberation Sans, Arial, Helvetica, sans-serif">Metabolism</text>
<rect x="1383.8" y="1065.90" width="31.5" height="33.2" fill="#EAC87E" stroke="#000" stroke-width="2.3"/>
<text x="1429.6" y="1088.90" font-size="19.2" textLength="182.04" lengthAdjust="spacingAndGlyphs" font-weight="bold" font-family="Liberation Sans, Arial, Helvetica, sans-serif">Organismal Systems</text>
</svg>
</body></html>
